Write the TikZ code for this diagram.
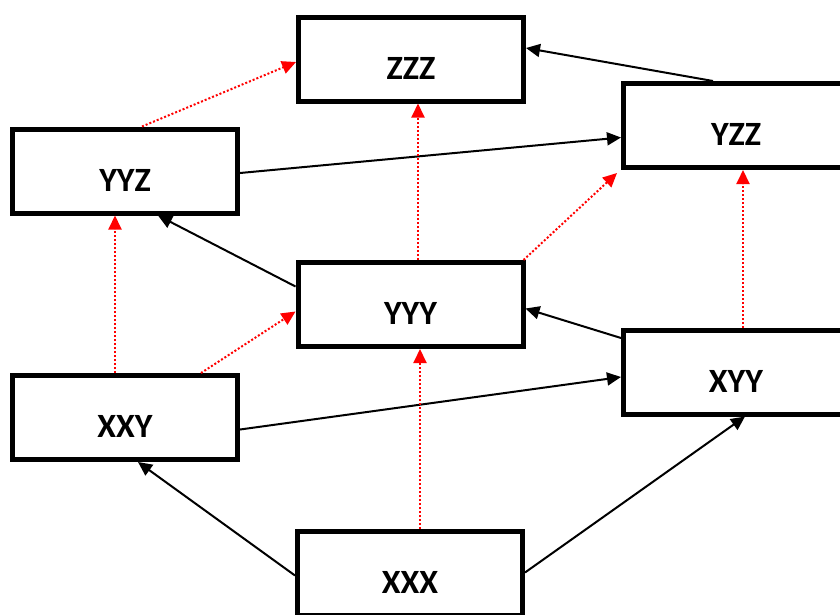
\documentclass[tikz,border=0pt]{standalone}
\usepackage{fontspec}
\setmainfont{Carlito}
\usetikzlibrary{arrows.meta}

\tikzset{
  box/.style={draw=black, line width=5pt, fill=white, rectangle,
    minimum width=225pt, minimum height=84pt, inner sep=0pt,
    font=\fontsize{34}{34}\selectfont\bfseries,
    text height=40pt, text depth=0pt},
  flow/.style={draw=black, line width=2pt,
    -{Triangle[length=14pt,width=13pt]}},
  lift/.style={draw=red, line width=2pt, dash pattern=on 2pt off 2pt,
    -{Triangle[length=14pt,width=13pt,fill=red,sharp]}, color=red}
}

\begin{document}
\begin{tikzpicture}[x=1pt, y=-1pt]
  \useasboundingbox (0,0) rectangle (840,614);

  % lattice nodes
  \node[box] (zzz) at (411,59)    {ZZZ};
  \node[box] (yzz) at (736,125.5) {YZZ};
  \node[box] (yyz) at (125,171)   {YYZ};
  \node[box] (yyy) at (410.5,304.5) {YYY};
  \node[box] (xyy) at (736,372)   {XYY};
  \node[box] (xxy) at (125,417.5) {XXY};
  \node[box] (xxx) at (410,573.5) {XXX};

  % solid black transitions
  \draw[flow] ([xshift=-23pt]yzz.north) -- ([yshift=11pt]zzz.east);
  \draw[flow] ([yshift=-2pt]yyz.east) -- ([yshift=-12pt]yzz.west);
  \draw[flow] ([yshift=18pt]yyy.west) -- ([xshift=33pt]yyz.south);
  \draw[flow] ([yshift=34pt]xyy.west) -- ([yshift=-4pt]yyy.east);
  \draw[flow] ([yshift=-12pt]xxy.east) -- ([yshift=-5pt]xyy.west);
  \draw[flow] ([yshift=-2pt]xxx.west) -- ([xshift=13pt]xxy.south);
  \draw[flow] ([yshift=1pt]xxx.east) -- ([xshift=9pt]xyy.south);

  % dotted red transitions
  \draw[lift] ([xshift=17pt]yyz.north) -- ([yshift=-3pt]zzz.west);
  \draw[lift] ([xshift=7.5pt]yyy.north) -- ([xshift=7pt]zzz.south);
  \draw[lift] ([xshift=-2pt]yyy.north east) -- ([xshift=-4pt,yshift=-3pt]yzz.south west);
  \draw[lift] ([xshift=7pt]xyy.north) -- ([xshift=7pt]yzz.south);
  \draw[lift] ([xshift=-10pt]xxy.north) -- ([xshift=-10pt]yyz.south);
  \draw[lift] ([xshift=76pt]xxy.north) -- ([yshift=-7pt]yyy.west);
  \draw[lift] ([xshift=10pt]xxx.north) -- ([xshift=9.5pt]yyy.south);
\end{tikzpicture}
\end{document}
